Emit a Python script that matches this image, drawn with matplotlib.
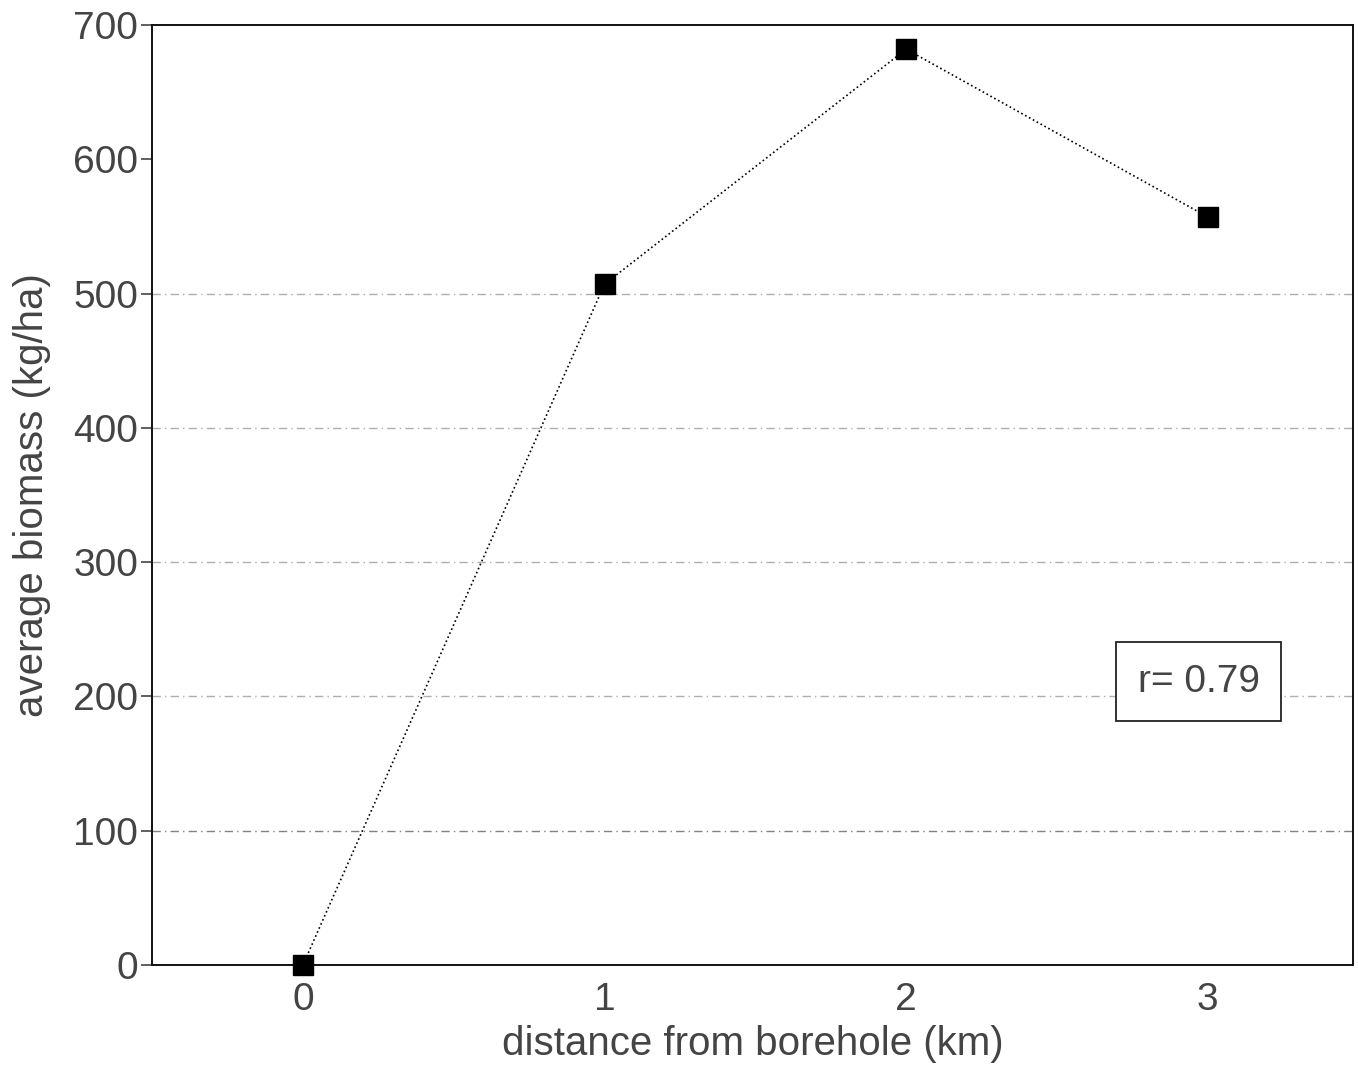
import matplotlib.pyplot as plt

plt.rcParams['font.family'] = ['Liberation Sans', 'DejaVu Sans']

distance = [0, 1, 2, 3]
biomass = [0, 507, 682, 557]
grid_levels = [100, 200, 300, 400, 500]
y_ticks = [0, 100, 200, 300, 400, 500, 600, 700]
x_ticks = [0, 1, 2, 3]

fig = plt.figure(figsize=(13.58, 10.68), dpi=100)
ax = fig.add_axes([0.112, 0.0964, 0.884, 0.8802])

# faint photocopied gridlines
for lvl in grid_levels:
    ax.axhline(lvl, color='0.55' if lvl != 100 else '0.3', lw=1.0,
               ls=(0, (6, 3, 1, 3)), alpha=0.7, zorder=1)

ax.plot(distance, biomass, color='black', ls=':', lw=1.2,
        marker='s', markersize=14, markerfacecolor='black',
        markeredgecolor='black', zorder=3, clip_on=False)

ax.set_xlim(-0.5, 3.48)
ax.set_ylim(0, 700)
ax.set_xticks(x_ticks)
ax.set_yticks(y_ticks)
ax.tick_params(axis='x', length=0, labelsize=28, pad=12, colors='#444444')
ax.tick_params(axis='y', length=8, width=1.2, direction='out',
               labelsize=28, pad=2, colors='#444444')
for s in ax.spines.values():
    s.set_linewidth(1.4)
    s.set_color('#111111')

ax.set_xlabel('distance from borehole (km)', fontsize=29, color='#444444',
              labelpad=5)
ax.set_ylabel('average biomass (kg/ha)', fontsize=29, color='#444444',
              labelpad=16)

ax.text(2.97, 211, 'r= 0.79', fontsize=28, color='#444444',
        ha='center', va='center',
        bbox=dict(boxstyle='square,pad=0.55', fc='white', ec='#222222', lw=1.3))

fig.savefig('out.png', dpi=100)
